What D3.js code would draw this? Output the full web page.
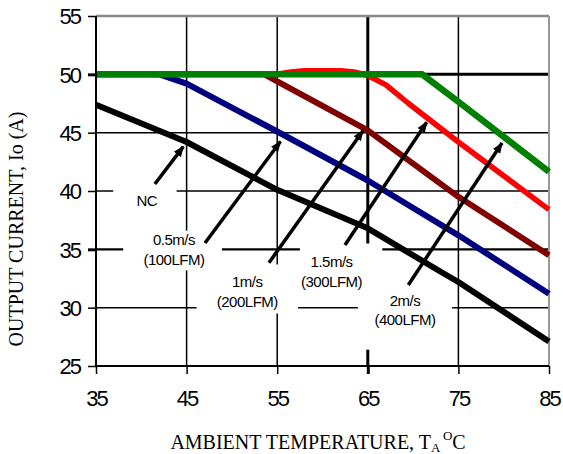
<!DOCTYPE html>
<html>
<head>
<meta charset="utf-8">
<script src="https://cdn.jsdelivr.net/npm/d3@7"></script>
<style>
  body { margin: 0; background: #fff; }
  .tick text { font-family: "Liberation Sans", Arial, sans-serif; font-size: 22px; letter-spacing: -2px; fill: #000; }
  .axis-title { font-family: "Liberation Serif", "Times New Roman", serif; font-size: 20px; fill: #000; }
  .note { font-family: "Liberation Sans", Arial, sans-serif; font-size: 15px; letter-spacing: -0.5px; fill: #000; }
</style>
</head>
<body>
<div class="derating-chart"></div>
<script>
// ambient temperature (C) and output current (A) per airflow curve
const ncTemp = [35, 45, 55, 65, 73, 75, 85]
const ncCurrent = [47.4, 44.2, 40.1, 36.8, 33.1, 32.2, 27.1]

const air05Temp = [35, 42, 45, 55, 65, 75, 85]
const air05Current = [50, 50, 49.2, 45.1, 40.9, 36.2, 31.2]

const air1Temp = [35, 53.6, 55, 65, 75, 85]
const air1Current = [50, 50, 49.4, 45.2, 39.5, 34.5]

const air15Temp = [35, 55, 56.5, 58, 62, 63.5, 65, 67, 69.5, 71.5, 73, 75, 85]
const air15Current = [50, 50, 50.2, 50.3, 50.3, 50.2, 49.9, 49.1, 47.5, 46.3, 45.4, 44.2, 38.4]

const air2Temp = [35, 71, 75, 85]
const air2Current = [50, 50, 47.65, 41.65]

const xTicks = [35, 45, 55, 65, 75, 85]
const yTicks = [25, 30, 35, 40, 45, 50, 55]

const series = [
    {name: "NC", temp: ncTemp, current: ncCurrent, color: "#000000", w: 6},
    {name: "0.5m/s", temp: air05Temp, current: air05Current, color: "#000080", w: 6},
    {name: "1m/s", temp: air1Temp, current: air1Current, color: "#800000", w: 6},
    {name: "1.5m/s", temp: air15Temp, current: air15Current, color: "#ff0000", w: 5.5},
    {name: "2m/s", temp: air2Temp, current: air2Current, color: "#008000", w: 6.5}
]

// labels: text lines, text centre, white box (data units), arrow tail -> tip
const notes = [
    {lines: ["NC"], at: [40.6, 39.2], box: [36.9, 43.9, 40.6, 38.3], from: [41.5, 40.6], to: [44.64, 43.8]},
    {lines: ["0.5m/s", "(100LFM)"], at: [43.6, 35.8], box: [38.0, 48.9, 36.6, 33.2], from: [47.03, 35.54], to: [55.36, 44.24]},
    {lines: ["1m/s", "(200LFM)"], at: [51.7, 32.2], box: [46.1, 57.3, 33.7, 29.5], from: [54.09, 33.85], to: [64.47, 45.17]},
    {lines: ["1.5m/s", "(300LFM)"], at: [61.0, 33.9], box: [57.5, 66.6, 35.5, 31.3], from: [62.48, 35.37], to: [71.5, 45.89]},
    {lines: ["2m/s", "(400LFM)"], at: [69.1, 30.6], box: [63.9, 74.3, 31.7, 26.4], from: [69.47, 31.94], to: [79.81, 44.11]}
]

const margin = {top: 16, right: 14, bottom: 88, left: 96}
const width = 563 - margin.left - margin.right
const height = 454 - margin.top - margin.bottom

const svg = d3.select(".derating-chart").append("svg")
        .attr("width", width + margin.left + margin.right)
        .attr("height", height + margin.top + margin.bottom)
    .append("g")
        .attr("transform", "translate(" + margin.left + "," + margin.top + ")")

const xScale = d3.scaleLinear().domain([35, 85]).range([0, width])
const yScale = d3.scaleLinear().domain([25, 55]).range([height, 0])

// grid
svg.append("g")
    .selectAll("line")
    .data(xTicks.slice(1, -1))
    .join("line")
        .attr("x1", d => xScale(d)).attr("x2", d => xScale(d))
        .attr("y1", 0).attr("y2", height)
        .attr("stroke", "#000")
        .attr("stroke-width", d => d === 65 ? 3 : 1.5)

svg.append("g")
    .selectAll("line")
    .data(yTicks.slice(1, -1))
    .join("line")
        .attr("x1", 0).attr("x2", width)
        .attr("y1", d => yScale(d)).attr("y2", d => yScale(d))
        .attr("stroke", "#000")
        .attr("stroke-width", d => d === 50 ? 3 : d === 35 ? 2.3 : 1.5)

// frame top / right in grey
svg.append("line").attr("x1", 0).attr("x2", width).attr("y1", 0).attr("y2", 0)
    .attr("stroke", "#888").attr("stroke-width", 2.5)
svg.append("line").attr("x1", width).attr("x2", width).attr("y1", 0).attr("y2", height)
    .attr("stroke", "#999").attr("stroke-width", 2)

// white label boxes knock out the grid
svg.append("g")
    .selectAll("rect")
    .data(notes)
    .join("rect")
        .attr("x", d => xScale(d.box[0]))
        .attr("y", d => yScale(d.box[2]))
        .attr("width", d => xScale(d.box[1]) - xScale(d.box[0]))
        .attr("height", d => yScale(d.box[3]) - yScale(d.box[2]))
        .attr("fill", "#fff")

// curves
const line = d3.line()
    .x(d => xScale(d[0]))
    .y(d => yScale(d[1]))

svg.append("g")
    .selectAll("path")
    .data(series)
    .join("path")
        .attr("d", d => line(d3.zip(d.temp, d.current)))
        .attr("fill", "none")
        .attr("stroke", d => d.color)
        .attr("stroke-width", d => d.w)
        .attr("stroke-linejoin", "round")

// arrows
svg.append("defs").append("marker")
    .attr("id", "head")
    .attr("viewBox", "0 0 10 10")
    .attr("refX", 9).attr("refY", 5)
    .attr("markerUnits", "userSpaceOnUse")
    .attr("markerWidth", 11).attr("markerHeight", 11)
    .attr("orient", "auto")
  .append("path")
    .attr("d", "M0,1 L10,5 L0,9 Z")
    .attr("fill", "#000")

svg.append("g")
    .selectAll("line")
    .data(notes)
    .join("line")
        .attr("x1", d => xScale(d.from[0]))
        .attr("y1", d => yScale(d.from[1]))
        .attr("x2", d => xScale(d.to[0]))
        .attr("y2", d => yScale(d.to[1]))
        .attr("stroke", "#000")
        .attr("stroke-width", 3.5)
        .attr("marker-end", "url(#head)")

const noteText = svg.append("g")
    .selectAll("text")
    .data(notes)
    .join("text")
        .attr("class", "note")
        .attr("text-anchor", "middle")
        .attr("x", d => xScale(d.at[0]))
        .attr("y", d => yScale(d.at[1]))

noteText.selectAll("tspan")
    .data(d => d.lines.map((t, i) => ({t, i, x: xScale(d.at[0])})))
    .join("tspan")
        .attr("x", d => d.x)
        .attr("dy", d => d.i === 0 ? "0.35em" : "1.3em")
        .text(d => d.t)

// axes
const xAxis = d3.axisBottom(xScale).tickValues(xTicks).tickSize(8).tickPadding(16).tickFormat(d3.format("d"))
const yAxis = d3.axisLeft(yScale).tickValues(yTicks).tickSize(8).tickPadding(8).tickFormat(d3.format("d"))

svg.append("g")
    .attr("transform", `translate(0, ${height})`)
    .call(xAxis)
    .call(g => g.select(".domain").remove())
    .call(g => g.selectAll(".tick line").attr("stroke-width", d => d === 65 ? 3 : 1.5))

svg.append("g")
    .call(yAxis)
    .call(g => g.select(".domain").remove())
    .call(g => g.selectAll(".tick line").attr("stroke-width", d => d === 50 || d === 35 ? 3 : 1.5))
    .call(g => g.selectAll(".tick text").attr("dy", "0.36em"))

svg.append("line").attr("x1", 0).attr("x2", width).attr("y1", height).attr("y2", height)
    .attr("stroke", "#000").attr("stroke-width", 2)
svg.append("line").attr("x1", 0).attr("x2", 0).attr("y1", 0).attr("y2", height)
    .attr("stroke", "#000").attr("stroke-width", 2)

// axis titles
svg.append("text")
    .attr("class", "axis-title")
    .attr("transform", `translate(${-margin.left + 23}, ${213}) rotate(-90)`)
    .attr("text-anchor", "middle")
    .text("OUTPUT CURRENT, Io  (A)")

const xTitle = svg.append("text")
    .attr("class", "axis-title")
    .attr("x", 222)
    .attr("y", height + 83)
    .attr("text-anchor", "middle")
xTitle.append("tspan").text("AMBIENT TEMPERATURE, T")
xTitle.append("tspan").attr("font-size", "13px").attr("dy", "3").text("A")
xTitle.append("tspan").attr("font-size", "13px").attr("dy", "-12").text(" O")
xTitle.append("tspan").attr("dy", "9").text("C")
</script>
</body>
</html>
